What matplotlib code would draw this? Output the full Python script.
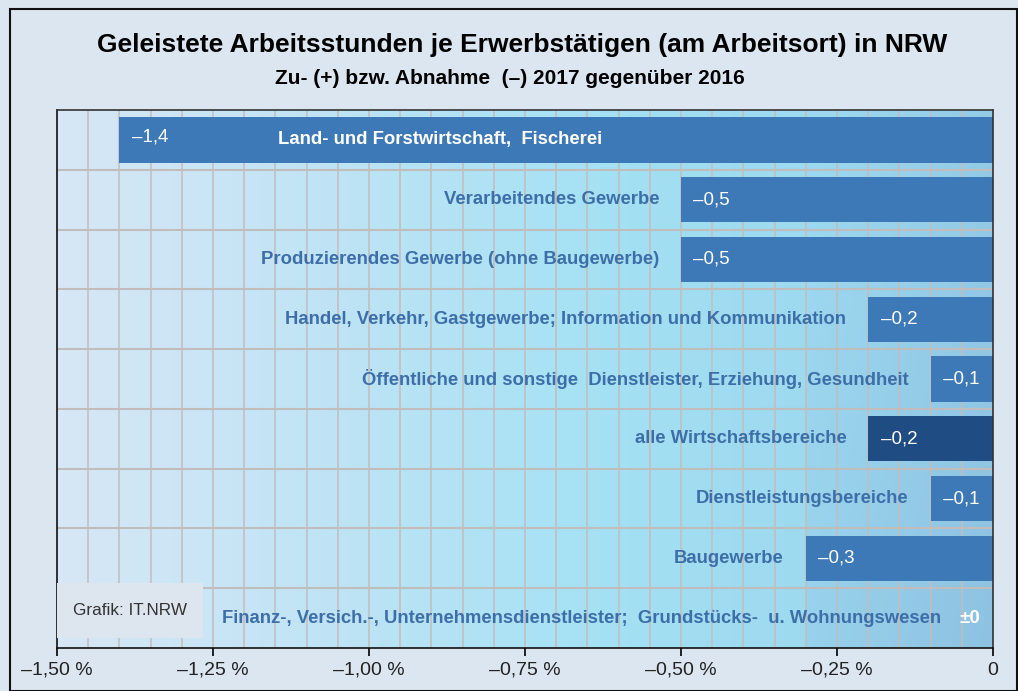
import numpy as np
import matplotlib
matplotlib.use('Agg')
import matplotlib.pyplot as plt
from matplotlib.patches import Rectangle
from matplotlib.colors import LinearSegmentedColormap

# Daten: Veränderung 2017 gegenüber 2016 in %
bereiche = [
    'Land- und Forstwirtschaft,  Fischerei',
    'Verarbeitendes Gewerbe',
    'Produzierendes Gewerbe (ohne Baugewerbe)',
    'Handel, Verkehr, Gastgewerbe; Information und Kommunikation',
    'Öffentliche und sonstige  Dienstleister, Erziehung, Gesundheit',
    'alle Wirtschaftsbereiche',
    'Dienstleistungsbereiche',
    'Baugewerbe',
    'Finanz-, Versich.-, Unternehmensdienstleister;  Grundstücks-  u. Wohnungswesen',
]
werte = [-1.4, -0.5, -0.5, -0.2, -0.1, -0.2, -0.1, -0.3, 0.0]
wert_texte = ['–1,4', '–0,5', '–0,5', '–0,2', '–0,1', '–0,2', '–0,1', '–0,3', '±0']
tick_werte = [-1.5, -1.25, -1.0, -0.75, -0.5, -0.25, 0]
tick_texte = ['–1,50 %', '–1,25 %', '–1,00 %', '–0,75 %', '–0,50 %', '–0,25 %', '0']

plt.rcParams['font.family'] = ['Liberation Sans', 'DejaVu Sans']

fig = plt.figure(figsize=(10.18, 6.91), dpi=100)
fig.patch.set_facecolor('#dce6f1')
# Rahmen um die Grafik
fig.patches.append(Rectangle((10 / 1018, 0), 1 - 11 / 1018, 1 - 9 / 691,
                             transform=fig.transFigure, fill=False,
                             edgecolor='#111111', linewidth=1.5))

ax = fig.add_axes([57 / 1018, 1 - 648 / 691, 936 / 1018, 538 / 691])
ax.set_xlim(-1.5, 0)
ax.set_ylim(len(bereiche) - 0.5, -0.5)

# Hintergrundverlauf
cmap = LinearSegmentedColormap.from_list('bg', ['#d7e7f6', '#c0e4f5', '#a6e2f4', '#9cd8ef', '#8ec2e2'])
gx = np.linspace(0, 1, 300)
gy = np.linspace(0, 1, 60)
GX, GY = np.meshgrid(gx, gy)
ax.imshow(GX * 0.9 + GY * 0.1 * (GX > 0.8), cmap=cmap, aspect='auto',
          extent=(-1.5, 0, len(bereiche) - 0.5, -0.5), zorder=0)

# Gitter
for xv in np.arange(-1.45, 0, 0.05):
    ax.axvline(xv, color='#c2bdbd', linewidth=1.1, zorder=1)
for yv in np.arange(0.5, len(bereiche) - 0.5, 1):
    ax.axhline(yv, color='#c2bdbd', linewidth=1.5, zorder=1)

farben = ['#1f4c82' if b == 'alle Wirtschaftsbereiche' else '#3d79b6' for b in bereiche]
y = np.arange(len(bereiche))
ax.barh(y, werte, height=0.76, color=farben, zorder=2, align='center')

label_farbe = '#3d6ea8'
fs_label = 13.3
fs_wert = 13.5
for i, (b, w, t) in enumerate(zip(bereiche, werte, wert_texte)):
    if w <= -1.0:
        # Beschriftung passt in den Balken
        ax.text(w + 0.02, i - 0.04, t, color='white', fontsize=fs_wert,
                ha='left', va='center', zorder=3)
        ax.text(w + 0.254, i, b, color='white', fontsize=fs_label, fontweight='bold',
                ha='left', va='center', zorder=3)
    elif w == 0:
        ax.text(-0.037, i, t, color='white', fontsize=fs_wert, fontweight='bold',
                ha='center', va='center', zorder=3)
        ax.text(-0.083, i, b, color=label_farbe, fontsize=fs_label, fontweight='bold',
                ha='right', va='center', zorder=3)
    else:
        ax.text(w + 0.02, i, t, color='white', fontsize=fs_wert,
                ha='left', va='center', zorder=3)
        ax.text(w - 0.035, i, b, color=label_farbe, fontsize=fs_label, fontweight='bold',
                ha='right', va='center', zorder=3)

# Quellenkasten
ax.add_patch(Rectangle((0, 0.019), 0.156, 0.102, transform=ax.transAxes,
                       facecolor='#dde5ef', edgecolor='none', zorder=4))
ax.text(0.017, 0.07, 'Grafik: IT.NRW', transform=ax.transAxes, fontsize=12.3,
        color='#333333', ha='left', va='center', zorder=5)

ax.set_xticks(tick_werte)
ax.set_xticklabels(tick_texte, fontsize=14, color='#222222')
ax.set_yticks([])
ax.tick_params(axis='x', length=6, width=1.2, direction='out', pad=4)
for s in ax.spines.values():
    s.set_color('#333333')
    s.set_linewidth(1.2)
ax.spines['left'].set_color('#111111')
ax.spines['bottom'].set_color('#111111')

fig.text(522 / 1018, 1 - 45 / 691, 'Geleistete Arbeitsstunden je Erwerbstätigen (am Arbeitsort) in NRW',
         ha='center', va='center', fontsize=19, fontweight='bold')
fig.text(510 / 1018, 1 - 78 / 691, 'Zu- (+) bzw. Abnahme  (–) 2017 gegenüber 2016',
         ha='center', va='center', fontsize=15, fontweight='bold')

fig.savefig('out.png', dpi=100, facecolor=fig.get_facecolor())
